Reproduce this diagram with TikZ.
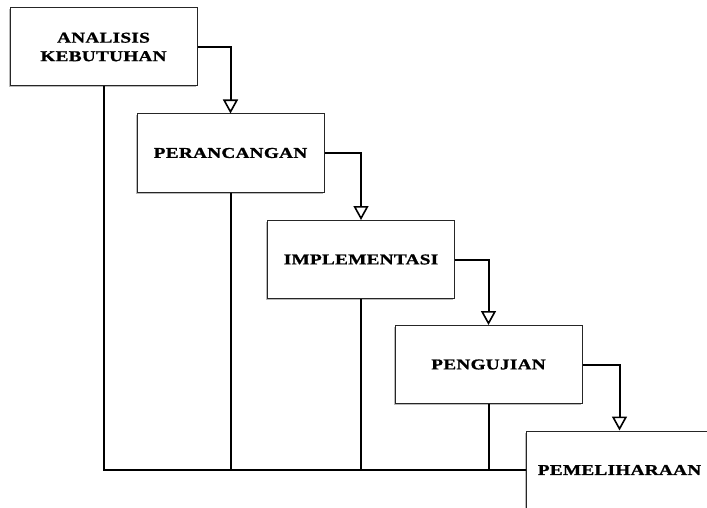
\documentclass[tikz,border=0pt]{standalone}
\usepackage{fontspec}
\setmainfont{Liberation Serif}
\newfontfamily\stagefont[FakeStretch=1.28, LetterSpace=2, BoldFeatures={FakeBold=1.2}]{Liberation Serif}
\usepackage{tikz}
\usetikzlibrary{arrows.meta,shadows}

\tikzset{
  stage/.style={draw=black!85, line width=1pt, fill=white, minimum width=187pt, minimum height=78pt,
    inner sep=0pt, align=center, font=\stagefont\bfseries\fontsize{15}{18.5}\selectfont,
    drop shadow={shadow xshift=-1.5pt, shadow yshift=-1.5pt, fill=black!45, opacity=.6}},
  flow/.style={line width=2pt, -{Triangle[open, width=15pt, length=14pt, line width=1.6pt]}},
  back/.style={line width=2pt}
}

\begin{document}
\begin{tikzpicture}[x=1pt, y=-1pt]
				\useasboundingbox (0,0) rectangle (707,508);
				\node[stage] (analisis) at (103.5,47) {ANALISIS\\KEBUTUHAN};
				\node[stage] (rancang) at (230.5,153) {PERANCANGAN};
				\node[stage] (implement) at (361,259.5) {IMPLEMENTASI};
				\node[stage] (uji) at (488.5,364.5) {PENGUJIAN};
				\node[stage] (pelihara) at (619.5,470) {PEMELIHARAAN};
				% garis balik ke bawah
				\draw[back] (analisis.south) |- (pelihara.west);
				\draw[back] (rancang.south) -- (rancang.south |- pelihara.west);
				\draw[back] (implement.south) -- (implement.south |- pelihara.west);
				\draw[back] (uji.south) -- (uji.south |- pelihara.west);
				% panah antar tahap
				\draw[flow] (analisis.east) -| (rancang.north);
				\draw[flow] (rancang.east) -| (implement.north);
				\draw[flow] (implement.east) -| (uji.north);
				\draw[flow] (uji.east) -| (pelihara.north);
			\end{tikzpicture}
\end{document}
